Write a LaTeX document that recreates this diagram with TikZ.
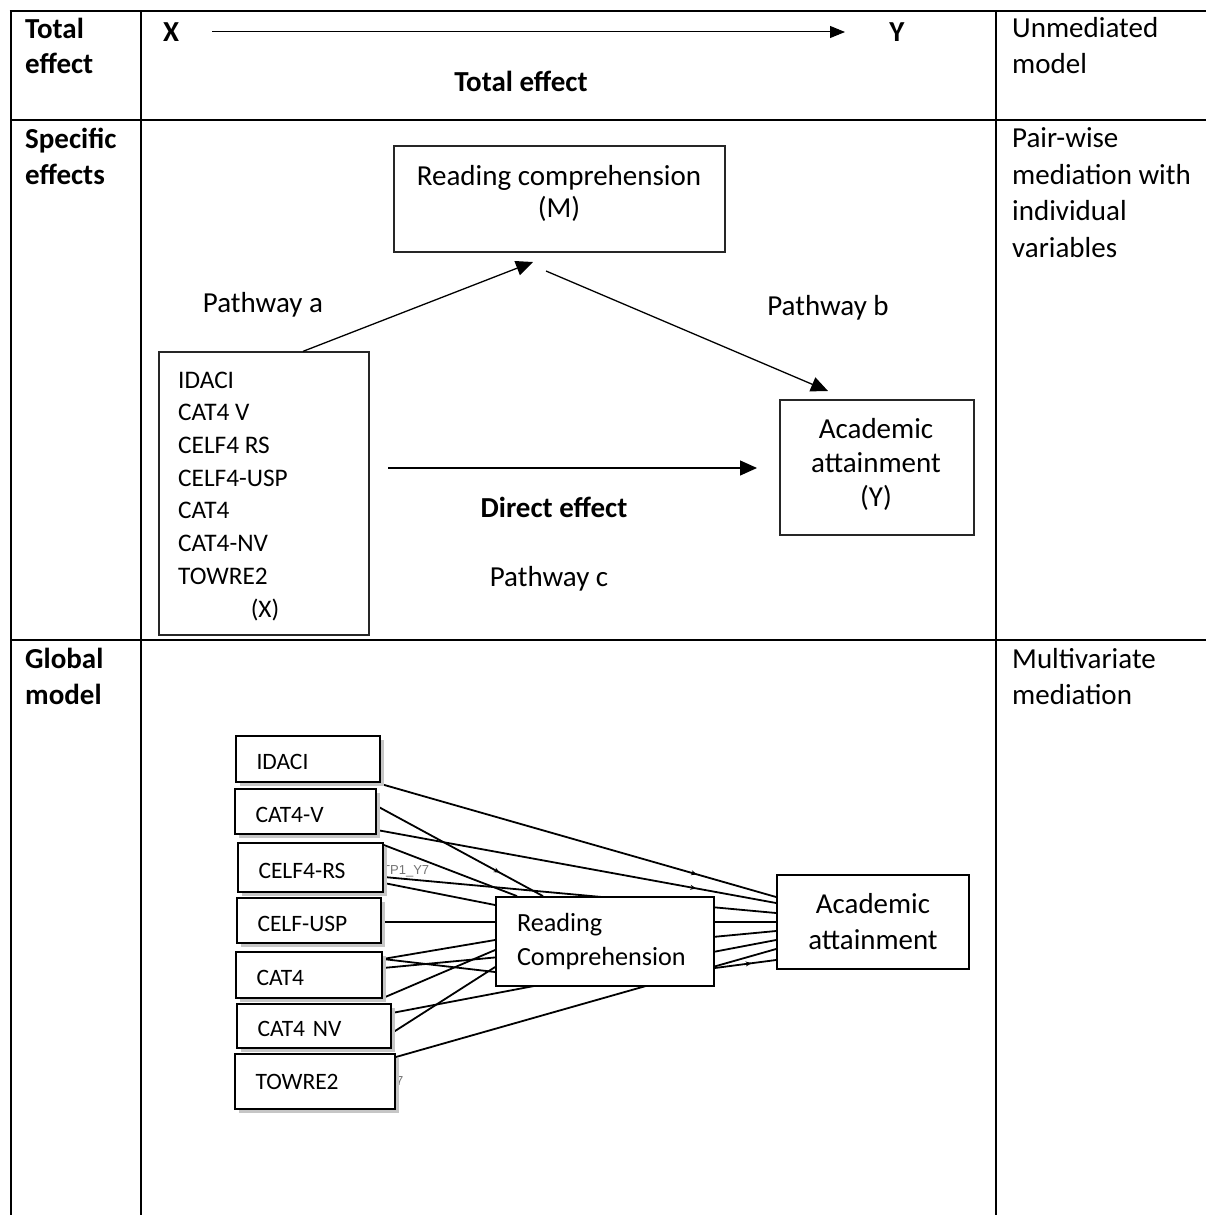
\documentclass[tikz,border=0pt]{standalone}
\usepackage{fontspec}
\setmainfont{Carlito}
\newfontfamily\labelsans{Liberation Sans}
\usetikzlibrary{arrows.meta,shadows,decorations.markings}
\pgfdeclarelayer{links}
\pgfsetlayers{links,main}
\tikzset{
  tableline/.style={line width=2.6pt},
  txt/.style={inner sep=0pt, font=\fontsize{29}{36}\selectfont},
  btxt/.style={inner sep=0pt, font=\fontsize{29}{36}\selectfont\bfseries},
  smalltxt/.style={inner sep=0pt, font=\fontsize{25.3}{32}\selectfont},
  pbox/.style={draw=black!85, line width=1.3pt, inner sep=0pt},
  parrow/.style={line width=1.3pt, -{Triangle[length=17pt,width=15pt]}},
  toparrow/.style={line width=1pt, -{Triangle[length=15pt,width=12pt]}},
  vbox/.style={draw, line width=1.8pt, fill=white, inner ysep=0pt, inner xsep=20.5pt,
    align=left, text height=21pt, text depth=0pt, font=\fontsize{23.5}{28}\selectfont,
    general shadow={fill=gray!45, shadow xshift=4pt, shadow yshift=-4pt}},
  gbox/.style={draw, line width=1.8pt, fill=white, inner sep=0pt},
  glink/.style={line width=1.8pt},
  midtick/.style={postaction={decorate}, decoration={markings,
    mark=at position #1 with {\arrow{Stealth[length=6pt,width=5pt]}}}},
  faint/.style={inner sep=0pt, text=black!55, font=\labelsans\fontsize{13}{15}\selectfont},
}
\begin{document}
\begin{tikzpicture}[x=1pt,y=-1pt]
\useasboundingbox (0,0) rectangle (1206,1215);

% table rules
\draw[tableline] (9.7,11) -- (1206,11);
\draw[tableline] (11,120) -- (1206,120);
\draw[tableline] (11,640) -- (1206,640);
\draw[tableline] (11,11) -- (11,1215);
\draw[tableline] (141,11) -- (141,1215);
\draw[tableline] (996,11) -- (996,1215);

% ---- row 1: total effect
\node[btxt, anchor=base west] (teA) at (25,38.5) {Total};
\node[btxt, anchor=base west] (teB) at (25,74) {effect};
\node[btxt, anchor=base] (nx) at (171,41.5) {X};
\node[btxt, anchor=base] (ny) at (897,41.5) {Y};
\coordinate (xs) at (212,32);
\coordinate (ye) at (845,32);
\draw[toparrow] (xs) -- (ye);
\node[btxt, anchor=base] (telab) at (521,92) {Total effect};
\node[txt, anchor=base west] (um1) at (1012,37.5) {Unmediated};
\node[txt, anchor=base west] (um2) at (1012,73.5) {model};

% ---- row 2: specific effects
\node[btxt, anchor=base west] (se1) at (25,148) {Specific};
\node[btxt, anchor=base west] (se2) at (25,184) {effects};
\node[txt, anchor=base west] (pw1) at (1012,147.5) {Pair-wise};
\node[txt, anchor=base west] (pw2) at (1012,184) {mediation with};
\node[txt, anchor=base west] (pw3) at (1012,220.5) {individual};
\node[txt, anchor=base west] (pw4) at (1012,257) {variables};

\node[pbox, minimum width=331pt, minimum height=106pt] (mbox) at (559.5,199) {};
\node[txt, anchor=base] (m1) at (559,185) {Reading comprehension};
\node[txt, anchor=base] (m2) at (559,217.5) {(M)};

\node[pbox, minimum width=210pt, minimum height=283pt] (xbox) at (264,493.5) {};
\foreach \t [count=\i] in {IDACI, CAT4 V, CELF4 RS, CELF4-USP, CAT4, CAT4-NV, TOWRE2}
  \node[smalltxt, anchor=base west] (xv\i) at (178,{388+32.7*(\i-1)}) {\t};
\node[smalltxt, anchor=base] (xvx) at (265,617) {(X)};

\node[pbox, minimum width=194pt, minimum height=135pt] (ybox) at (877,467.5) {};
\node[txt, anchor=base] (y1) at (876,438) {Academic};
\node[txt, anchor=base] (y2) at (876,472) {attainment};
\node[txt, anchor=base] (y3) at (876,506) {(Y)};

\coordinate (aend) at (533,262);
\coordinate (bstart) at (546,271);
\coordinate (bend) at (828,391);
\coordinate (cstart) at (388,468);
\coordinate (cend) at (757,468);
\draw[parrow] (xbox.north -| 303,0) -- (aend);
\draw[parrow] (bstart) -- (bend);
\draw[parrow] (cstart) -- (cend);

\node[txt, anchor=base] (pa) at (263,312) {Pathway a};
\node[txt, anchor=base] (pb) at (828,315) {Pathway b};
\node[btxt, anchor=base] (de) at (554,517) {Direct effect};
\node[txt, anchor=base] (pc) at (549,586) {Pathway c};

% ---- row 3: global model
\node[btxt, anchor=base west] (gm1) at (25,668) {Global};
\node[btxt, anchor=base west] (gm2) at (25,704) {model};
\node[txt, anchor=base west] (mv1) at (1012,668) {Multivariate};
\node[txt, anchor=base west] (mv2) at (1012,704) {mediation};

\node[vbox, text width=103pt, minimum height=46pt] (idaci) at (308,759) {IDACI};
\node[vbox, text width=100pt, minimum height=45pt] (catv) at (305.5,811.5) {CAT4-V};
\node[vbox, text width=104pt, minimum height=49pt] (celfrs) at (310.5,867.5) {CELF4-RS};
\node[vbox, text width=103pt, minimum height=45pt] (celfusp) at (309,920.5) {CELF-USP};
\node[vbox, text width=105pt, minimum height=46pt] (cat) at (309,975) {CAT4};
\node[vbox, text width=113pt, minimum height=44pt] (catnv) at (314,1026) {CAT4 NV};
\node[vbox, text width=119pt, minimum height=55pt, text height=15pt] (towre) at (315,1081.5) {TOWRE2};

\node[gbox, minimum width=218pt, minimum height=89pt, text width=176pt, inner xsep=21pt,
  align=left, font=\fontsize{26.2}{34}\selectfont] (rc) at (605,941.5) {Reading\\Comprehension};
\node[gbox, minimum width=192pt, minimum height=94pt, align=center,
  font=\fontsize{28.9}{36}\selectfont] (aa) at (873,922) {Academic\\attainment};

\begin{pgfonlayer}{links}
  \node[faint, anchor=base west] (tpa) at (382,874) {TP1\_Y7};
  \node[faint, anchor=base west] (tpb) at (396,1085) {7};
  \draw[glink, midtick=0.8] (idaci.east |- 0,784) -- (aa.west |- 0,897);
  \draw[glink, midtick=0.74] (catv.east |- 0,806) -- (rc.north -| 543,0);
  \draw[glink, midtick=0.8] (catv.east |- 0,830) -- (aa.west |- 0,903);
  \draw[glink] (celfrs.east |- 0,845) -- (rc.north -| 517,0);
  \draw[glink] (celfrs.east |- 0,877) -- (aa.west |- 0,913);
  \draw[glink] (celfrs.east |- 0,883) -- (rc.west |- 0,905);
  \draw[glink] (celfusp.east |- 0,922) -- (aa.west |- 0,922);
  \draw[glink] (cat.east |- 0,959) -- (rc.west |- 0,940);
  \draw[glink] (cat.east |- 0,959) -- (rc.west |- 0,972);
  \draw[glink] (cat.east |- 0,968) -- (aa.west |- 0,931);
  \draw[glink] (cat.east |- 0,998) -- (rc.west |- 0,950);
  \draw[glink] (catnv.east |- 0,1013) -- (aa.west |- 0,940);
  \draw[glink] (catnv.east |- 0,1033) -- (rc.west |- 0,967);
  \draw[glink] (towre.east |- 0,1057) -- (aa.west |- 0,949);
  \draw[glink, midtick=0.6] (rc.east |- 0,968) -- (aa.west |- 0,960);
\end{pgfonlayer}
\end{tikzpicture}
\end{document}
